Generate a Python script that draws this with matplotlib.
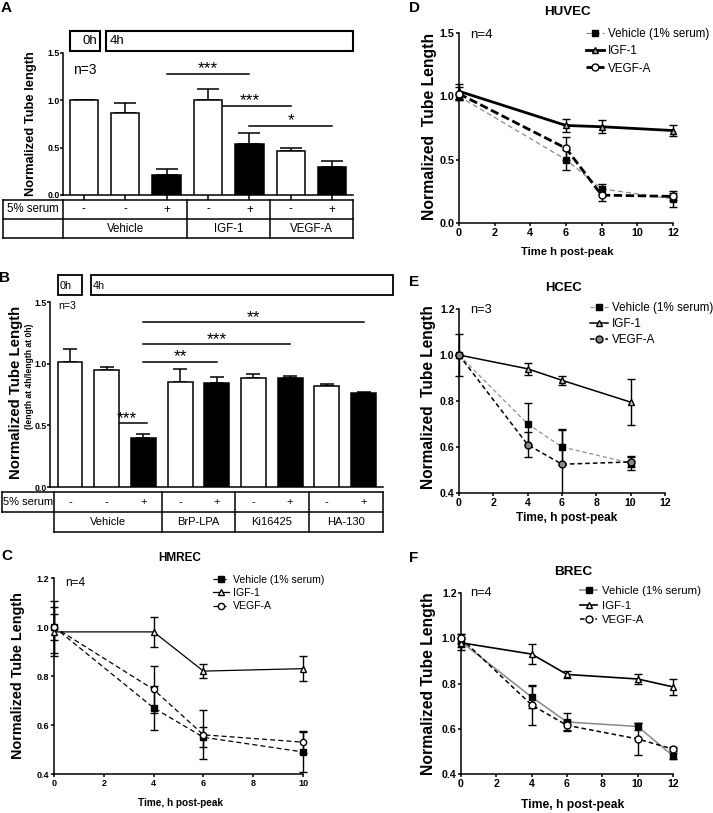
import numpy as np
import matplotlib
matplotlib.use("Agg")
import matplotlib.pyplot as plt
from matplotlib.patches import Rectangle
from matplotlib.transforms import Bbox, TransformedBbox

plt.rcParams['font.family'] = ['Liberation Sans', 'DejaVu Sans']

W, H = 713, 813

# ---------------- data ----------------
a_groups = ["Vehicle", "IGF-1", "VEGF-A"]
a_sizes = [3, 2, 2]
a_serum = ["-", "-", "+", "-", "+", "-", "+"]
a_mean = [1.0, 0.87, 0.21, 1.0, 0.54, 0.46, 0.30]
a_err = [0.0, 0.10, 0.06, 0.12, 0.11, 0.035, 0.06]
a_sig = [(2, 4, 1.28, "***"), (3, 5, 0.94, "***"), (4, 6, 0.73, "*")]

b_groups = ["Vehicle", "BrP-LPA", "Ki16425", "HA-130"]
b_sizes = [3, 2, 2, 2]
b_serum = ["-", "-", "+", "-", "+", "-", "+", "-", "+"]
b_mean = [1.01, 0.95, 0.40, 0.85, 0.84, 0.885, 0.88, 0.82, 0.76]
b_err = [0.11, 0.02, 0.03, 0.11, 0.05, 0.03, 0.02, 0.015, 0.01]
b_sig = [(2, 8, 1.335, "**"), (2, 6, 1.157, "***"), (2, 4, 1.016, "**"), (1, 2.1, 0.518, "***")]

series = ["Vehicle (1% serum)", "IGF-1", "VEGF-A"]

c_time = [0, 4, 6, 10]
c_veh = [1.0, 0.67, 0.55, 0.49]
c_veh_err = [0.105, 0.09, 0.04, 0.08]
c_igf = [0.98, 0.98, 0.82, 0.83]
c_igf_err = [0.10, 0.06, 0.03, 0.05]
c_vegf = [1.0, 0.745, 0.56, 0.53]
c_vegf_err = [0.055, 0.095, 0.10, 0.045]

d_time = [0, 6, 8, 12]
d_veh = [1.0, 0.50, 0.27, 0.19]
d_veh_err = [0.03, 0.08, 0.04, 0.06]
d_igf = [1.04, 0.77, 0.76, 0.73]
d_igf_err = [0.06, 0.05, 0.05, 0.04]
d_vegf = [1.02, 0.59, 0.22, 0.21]
d_vegf_err = [0.05, 0.09, 0.05, 0.03]

e_time = [0, 4, 6, 10]
e_veh = [1.0, 0.70, 0.60, 0.53]
e_veh_err = [0.09, 0.09, 0.08, 0.03]
e_igf = [1.0, 0.94, 0.89, 0.795]
e_igf_err = [0.0, 0.025, 0.02, 0.10]
e_vegf = [1.0, 0.61, 0.525, 0.535]
e_vegf_err = [0.0, 0.055, 0.15, 0.02]

f_time = [0, 4, 6, 10, 12]
f_veh = [0.985, 0.74, 0.63, 0.61, 0.48]
f_veh_err = [0.035, 0.05, 0.04, 0.015, 0.015]
f_igf = [0.98, 0.93, 0.84, 0.82, 0.785]
f_igf_err = [0.02, 0.045, 0.015, 0.02, 0.035]
f_vegf = [1.0, 0.705, 0.615, 0.555, 0.51]
f_vegf_err = [0.02, 0.09, 0.02, 0.07, 0.01]

# ---------------- layout (pixels: left, top, right, bottom) ----------------
A_box = (63, 53, 353, 195)
B_box = (50, 302, 383, 487)
C_box = (54, 578, 303, 774)
D_box = (459, 33, 673, 223)
E_box = (459, 309, 665, 493)
F_box = (461, 593, 673, 774)

fig = plt.figure(figsize=(W / 100, H / 100), dpi=100)


def px_rect(l, t, r, b):
    return [l / W, 1 - b / H, (r - l) / W, (b - t) / H]


def afrac(box, x, y):
    l, t, r, b = box
    return (x - l) / (r - l), (b - y) / (b - t)


deco = fig.add_axes([0, 0, 1, 1], zorder=-1)
deco.set_xlim(0, W)
deco.set_ylim(H, 0)
deco.axis('off')


def bar_panel(box, xlim, means, errs, serum, sig, capsize, ticklen):
    ax = fig.add_axes(px_rect(*box))
    xs = np.arange(len(means))
    fills = ['k' if s == '+' else 'w' for s in serum]
    ax.errorbar(xs, means, yerr=[np.zeros(len(errs)), errs], fmt='none', ecolor='k',
                elinewidth=1.1, capsize=capsize, capthick=1.1, zorder=2)
    ax.bar(xs, means, width=0.68, color=fills, edgecolor='k', linewidth=1.1, zorder=3)
    ax.set_xlim(*xlim)
    ax.set_ylim(0, 1.5)
    for s in ['top', 'right']:
        ax.spines[s].set_visible(False)
    for s in ['left', 'bottom']:
        ax.spines[s].set_linewidth(1.1)
    ax.set_yticks([0, 0.5, 1.0, 1.5], labels=['0.0', '0.5', '1.0', '1.5'],
                  fontsize=6.3, fontweight='bold')
    ax.tick_params(axis='y', length=2, width=1.1, pad=0.6)
    if ticklen:
        ax.set_xticks(xs, labels=[])
        ax.tick_params(axis='x', length=ticklen, width=1.1)
    else:
        ax.set_xticks([])
    for x0, x1, y, lab in sig:
        ax.plot([x0, x1], [y, y], color='k', lw=1.1, clip_on=False)
        ax.annotate(lab, ((x0 + x1) / 2, y), xytext=(0, 0.3), textcoords='offset points',
                    ha='center', va='baseline', fontsize=12.5)
    return ax


def table(box, xlim, tab, serum, groups, sizes, full_row2, fs):
    l, t, r, b = box
    tl, tt, tb, split = tab
    k = (xlim[1] - xlim[0]) / (r - l)
    x_left = xlim[0] - (l - tl) * k
    x_split = xlim[0] + (split - l) * k
    tax = fig.add_axes(px_rect(tl, tt, r, tb))
    tax.set_xlim(x_left, xlim[1])
    tax.set_ylim(2, 0)
    tax.axis('off')
    kw = dict(color='k', lw=1.1, clip_on=False, solid_capstyle='projecting')
    edges = list(np.cumsum(sizes)[:-1] - 0.5)
    row2_left = x_left if full_row2 else x_split
    tax.plot([x_left, xlim[1]], [0, 0], **kw)
    tax.plot([x_left, xlim[1]], [1, 1], **kw)
    tax.plot([row2_left, xlim[1]], [2, 2], **kw)
    tax.plot([x_left, x_left], [0, 2 if full_row2 else 1], **kw)
    for xv in [x_split] + edges + [xlim[1]]:
        tax.plot([xv, xv], [0, 2], **kw)
    for i, s in enumerate(serum):
        tax.text(i, 0.5, s, ha='center', va='center', fontsize=fs)
    cells = [x_split] + edges + [xlim[1]]
    for g, c0, c1 in zip(groups, cells[:-1], cells[1:]):
        tax.text((c0 + c1) / 2, 1.5, g, ha='center', va='center', fontsize=fs)
    tax.text((x_left + x_split) / 2, 0.5, '5% serum', ha='center', va='center', fontsize=fs)


def line_panel(box, times, means, errs, styles, xmax, ylim, yticks, tick_fs, leg_px, leg_fs, leg_sp):
    ax = fig.add_axes(px_rect(*box))
    clip = TransformedBbox(Bbox([[-0.05, 0.0], [1.05, 1.1]]), ax.transAxes)
    handles = []
    for m, e, st in zip(means, errs, styles):
        cont = ax.errorbar(times, m, yerr=e, ecolor='k', elinewidth=1.0, capsize=3,
                           capthick=1.0, zorder=3, **st)
        for art in cont.get_children():
            art.set_clip_box(clip)
        handles.append(cont[0])
    ax.set_xlim(0, xmax)
    ax.set_ylim(*ylim)
    for s in ['top', 'right']:
        ax.spines[s].set_visible(False)
    for s in ['left', 'bottom']:
        ax.spines[s].set_linewidth(1.1)
    xt = np.arange(0, xmax + 1, 2)
    ax.set_xticks(xt, labels=[str(v) for v in xt], fontsize=tick_fs, fontweight='bold')
    ax.set_yticks(yticks, labels=['%.1f' % v for v in yticks], fontsize=tick_fs, fontweight='bold')
    ax.tick_params(length=2.5, width=1.1, pad=0.8)
    lx, ly = afrac(box, *leg_px)
    ax.legend(handles, series, loc='upper left', bbox_to_anchor=(lx, ly), frameon=False,
              fontsize=leg_fs, handlelength=1.5, handletextpad=0.4, labelspacing=leg_sp,
              borderpad=0, borderaxespad=0)
    return ax


def labels(ax, box, ylab, ylab_px, ylab_fs, xlab=None, xlab_px=None, xlab_fs=None,
           title=None, title_px=None, title_fs=None, n_text=None, n_px=None, n_fs=None):
    x, y = afrac(box, *ylab_px)
    ax.text(x, y, ylab, rotation=90, ha='center', va='center', fontsize=ylab_fs,
            fontweight='bold', transform=ax.transAxes)
    if xlab:
        x, y = afrac(box, *xlab_px)
        ax.text(x, y, xlab, ha='center', va='center', fontsize=xlab_fs,
                fontweight='bold', transform=ax.transAxes)
    if title:
        x, y = afrac(box, *title_px)
        ax.text(x, y, title, ha='center', va='center', fontsize=title_fs,
                fontweight='bold', transform=ax.transAxes)
    if n_text:
        x, y = afrac(box, *n_px)
        ax.text(x, y, n_text, ha='left', va='center', fontsize=n_fs, transform=ax.transAxes)


# ---------------- panel A ----------------
a_xlim = (-0.5, 6.5)
axA = bar_panel(A_box, a_xlim, a_mean, a_err, a_serum, a_sig, capsize=8, ticklen=3.6)
table(A_box, a_xlim, (3, 200, 238, 63), a_serum, a_groups, a_sizes, True, 8.3)
labels(axA, A_box, 'Normalized Tube length', (31, 124), 9.3,
       n_text='n=3', n_px=(73, 70), n_fs=10)
deco.add_patch(Rectangle((70, 31), 30, 20, fill=False, lw=1.5, ec='k'))
deco.add_patch(Rectangle((106, 31), 247, 20, fill=False, lw=1.5, ec='k'))
deco.text(97, 41.5, '0h', ha='right', va='center', fontsize=9.5)
deco.text(110, 41.5, '4h', ha='left', va='center', fontsize=9.5)

# ---------------- panel B ----------------
b_xlim = (-0.545, 8.53)
axB = bar_panel(B_box, b_xlim, b_mean, b_err, b_serum, b_sig, capsize=5, ticklen=0)
table(B_box, b_xlim, (2, 492, 532, 54), b_serum, b_groups, b_sizes, False, 8)
labels(axB, B_box, 'Normalized Tube Length', (16, 392), 10.8,
       n_text='n=3', n_px=(58, 306), n_fs=7.6)
x, y = afrac(B_box, 29.5, 376)
axB.text(x, y, '(length at 4h/length at 0h)', rotation=90, ha='center', va='center',
         fontsize=6.2, fontweight='bold', transform=axB.transAxes)
deco.add_patch(Rectangle((58, 275), 24, 20, fill=False, lw=1.3, ec='k'))
deco.add_patch(Rectangle((91, 275), 302, 20, fill=False, lw=1.3, ec='k'))
deco.text(60, 285.5, '0h', ha='left', va='center', fontsize=7.8)
deco.text(93, 285.5, '4h', ha='left', va='center', fontsize=7.8)

# ---------------- panel C ----------------
c_styles = [
    dict(color='k', ls=(0, (4, 2.5)), lw=0.9, marker='s', mfc='k', mec='k', ms=4),
    dict(color='k', ls='-', lw=0.9, marker='^', mfc='w', mec='k', ms=4.5),
    dict(color='k', ls=(0, (4, 2.5)), lw=0.9, marker='o', mfc='w', mec='k', ms=4.5),
]
axC = line_panel(C_box, c_time, [c_veh, c_igf, c_vegf], [c_veh_err, c_igf_err, c_vegf_err],
                 c_styles, 10, (0.4, 1.2), [0.4, 0.6, 0.8, 1.0, 1.2], 6.5,
                 (213, 575), 7.6, 0.3)
labels(axC, C_box, 'Normalized Tube Length', (18, 676), 10.4,
       'Time, h post-peak', (180, 803), 7.2, 'HMREC', (180, 558), 8.5,
       'n=4', (65, 583), 8.5)

# ---------------- panel D ----------------
d_styles = [
    dict(color='#8a8a8a', ls=(0, (4, 2.5)), lw=0.9, marker='s', mfc='k', mec='k', ms=4.5),
    dict(color='k', ls='-', lw=2.0, marker='^', mfc='#aaaaaa', mec='k', ms=5),
    dict(color='k', ls=(0, (3, 1.3)), lw=2.0, marker='o', mfc='w', mec='k', ms=5),
]
axD = line_panel(D_box, d_time, [d_veh, d_igf, d_vegf], [d_veh_err, d_igf_err, d_vegf_err],
                 d_styles, 12, (0, 1.5), [0.0, 0.5, 1.0, 1.5], 7.8,
                 (586, 28), 8.4, 0.45)
labels(axD, D_box, 'Normalized  Tube Length', (430, 126), 11.3,
       'Time h post-peak', (567, 252), 8.1, 'HUVEC', (567, 12), 9.6,
       'n=4', (470, 35), 9.5)

# ---------------- panel E ----------------
e_styles = [
    dict(color='#999999', ls=(0, (3, 2)), lw=1.0, marker='s', mfc='k', mec='k', ms=4.5),
    dict(color='k', ls='-', lw=1.1, marker='^', mfc='#cccccc', mec='k', ms=5),
    dict(color='k', ls=(0, (3, 2)), lw=1.1, marker='o', mfc='#888888', mec='k', ms=5),
]
axE = line_panel(E_box, e_time, [e_veh, e_igf, e_vegf], [e_veh_err, e_igf_err, e_vegf_err],
                 e_styles, 12, (0.4, 1.2), [0.4, 0.6, 0.8, 1.0, 1.2], 7.6,
                 (590, 302), 8.4, 0.35)
labels(axE, E_box, 'Normalized  Tube Length', (429, 397), 11.2,
       'Time, h post-peak', (567, 518), 8.6, 'HCEC', (563, 288), 9.4,
       'n=3', (470, 310), 9.2)

# ---------------- panel F ----------------
f_styles = [
    dict(color='#888888', ls='-', lw=1.1, marker='s', mfc='k', mec='k', ms=4.5),
    dict(color='k', ls='-', lw=1.2, marker='^', mfc='w', mec='k', ms=5),
    dict(color='k', ls=(0, (3, 2)), lw=1.1, marker='o', mfc='w', mec='k', ms=5),
]
axF = line_panel(F_box, f_time, [f_veh, f_igf, f_vegf], [f_veh_err, f_igf_err, f_vegf_err],
                 f_styles, 12, (0.4, 1.2), [0.4, 0.6, 0.8, 1.0, 1.2], 7.6,
                 (580, 586), 8.2, 0.4)
labels(axF, F_box, 'Normalized Tube Length', (428, 684), 11.3,
       'Time, h post-peak', (573, 805), 8.7, 'BREC', (573, 572), 9.7,
       'n=4', (470, 593), 9.2)

# panel letters
for letter, (x, y) in zip('ABCDEF', [(6, 8), (5, 278), (7, 556), (414, 8), (414, 282), (414, 558)]):
    deco.text(x, y, letter, ha='center', va='center', fontsize=11, fontweight='bold')

fig.savefig('out.png', dpi=100)
